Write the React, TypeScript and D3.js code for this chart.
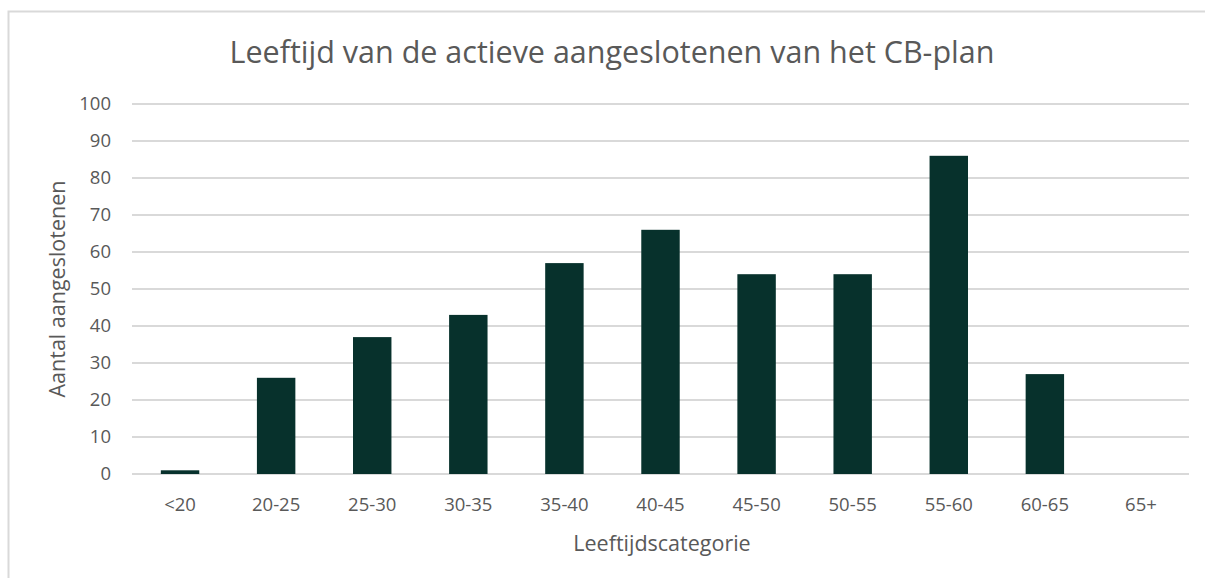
import React, { useEffect, useRef } from "react";
import * as d3 from "d3";

const categories = ["<20", "20-25", "25-30", "30-35", "35-40", "40-45", "45-50", "50-55", "55-60", "60-65", "65+"];
const values = [1, 26, 37, 43, 57, 66, 54, 54, 86, 27, 0];
const yTicks = [0, 10, 20, 30, 40, 50, 60, 70, 80, 90, 100];

const W = 1205;
const H = 578;

const App = () => {
  const ref = useRef<SVGSVGElement>(null);

  useEffect(() => {
    if (!ref.current) return;
    const svg = d3.select(ref.current);
    svg.selectAll("*").remove();

    const left = 132, right = 1189, top = 104, bottom = 474;
    const font = "'Open Sans', sans-serif";
    const grey = "#595959";

    // chart frame
    svg.append("rect")
      .attr("x", 8.5).attr("y", 11.5)
      .attr("width", W).attr("height", H)
      .attr("fill", "white").attr("stroke", "#d9d9d9").attr("stroke-width", 2);

    const x = d3.scaleBand().domain(categories).range([left, right])
      .paddingInner(0.6).paddingOuter(0.3);
    const y = d3.scaleLinear().domain([0, 100]).range([bottom, top]);

    // gridlines
    svg.append("g").selectAll("line").data(yTicks).join("line")
      .attr("x1", left).attr("x2", right)
      .attr("y1", d => y(d)).attr("y2", d => y(d))
      .attr("stroke", "#d9d9d9").attr("stroke-width", 2);

    // y labels
    svg.append("g").selectAll("text").data(yTicks).join("text")
      .attr("x", 111).attr("y", d => y(d))
      .attr("dy", "0.35em")
      .attr("text-anchor", "end")
      .attr("font-family", font).attr("font-size", 18.5)
      .attr("fill", grey)
      .text(d => d);

    // bars
    svg.append("g").selectAll("rect").data(values).join("rect")
      .attr("x", (d, i) => x(categories[i])!)
      .attr("width", x.bandwidth())
      .attr("y", d => y(d))
      .attr("height", d => y(0) - y(d))
      .attr("fill", "#07312c");

    // x labels
    svg.append("g").selectAll("text").data(categories).join("text")
      .attr("x", d => x(d)! + x.bandwidth() / 2)
      .attr("y", 511)
      .attr("text-anchor", "middle")
      .attr("font-family", font).attr("font-size", 18.5)
      .attr("fill", grey)
      .text(d => d);

    // title
    svg.append("text")
      .attr("x", 612).attr("y", 63)
      .attr("text-anchor", "middle")
      .attr("font-family", font).attr("font-size", 30.5)
      .attr("fill", grey)
      .text("Leeftijd van de actieve aangeslotenen van het CB-plan");

    // axis titles
    svg.append("text")
      .attr("x", 662).attr("y", 551)
      .attr("text-anchor", "middle")
      .attr("font-family", font).attr("font-size", 21.5)
      .attr("fill", grey)
      .text("Leeftijdscategorie");

    svg.append("text")
      .attr("transform", `translate(65, 289) rotate(-90)`)
      .attr("text-anchor", "middle")
      .attr("font-family", font).attr("font-size", 21.5)
      .attr("fill", grey)
      .text("Aantal aangeslotenen");
  }, []);

  return (
    <svg ref={ref} width={W} height={H} style={{ position: "absolute", left: 0, top: 0, background: "white" }} />
  );
};

export default App;
